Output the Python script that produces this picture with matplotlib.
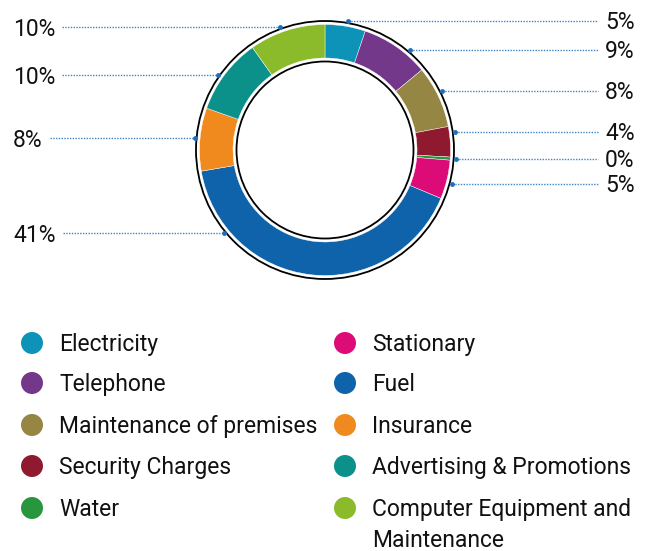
import numpy as np
import matplotlib
matplotlib.use("Agg")
import matplotlib.pyplot as plt
from matplotlib.patches import Circle

# ---------------- data ----------------
categories = [
    "Electricity", "Telephone", "Maintenance of premises", "Security Charges",
    "Water", "Stationary", "Fuel", "Insurance", "Advertising & Promotions",
    "Computer Equipment and\nMaintenance",
]
values = [5.2, 8.8, 8.0, 3.9, 0.4, 5.0, 41.0, 8.1, 9.8, 9.8]
colors = [
    "#0e93b8", "#74388a", "#968644", "#8f1a30", "#27963c",
    "#dd0b78", "#0e63ab", "#f0891e", "#0b918a", "#8bbb2a",
]

# ---------------- layout ----------------
W, H = 650, 551
plt.rcParams["font.family"] = ["Roboto", "DejaVu Sans"]
TXT = "#111111"
LINE = "#3d85c6"
FS = 16.5
FW = "normal"

fig = plt.figure(figsize=(W / 100, H / 100), dpi=100)
ax = fig.add_axes([0, 0, 1, 1])

cx, cy_px = 325, 150
cy = H - cy_px
R_out, R_in = 125.5, 92
R_black_out, R_black_in = 129, 88.5
R_lead = 131

ax.pie(values, colors=colors, startangle=90, counterclock=False,
       radius=R_out, center=(cx, cy),
       wedgeprops=dict(width=R_out - R_in, linewidth=0.3, edgecolor="white"))
ax.add_patch(Circle((cx, cy), R_black_out, fill=False, ec="black", lw=1.3))
ax.add_patch(Circle((cx, cy), R_black_in, fill=False, ec="black", lw=1.3))

ax.set_xlim(0, W)
ax.set_ylim(0, H)
ax.set_aspect("equal")
ax.axis("off")

# label rows (pixel y of leader lines) for each wedge, and side
label_y = [21, 50, 91, 132, 159, 184, 233, 138, 75, 27]
label_side = ["R"] * 6 + ["L"] * 4

texts = []
for v, ly, side in zip(values, label_y, label_side):
    s = f"{v:.0f}%"
    dy = ly - cy_px
    dx = np.sqrt(R_lead ** 2 - dy ** 2)
    if side == "R":
        xe = cx + dx
        ax.text(605, H - ly - 1.5, s, ha="left", va="center", fontsize=FS,
                fontweight=FW, color=TXT)
        ax.plot([xe, 598], [H - ly, H - ly], ls=(0, (1, 1)), lw=1, color=LINE)
        ax.plot([xe], [H - ly], "o", ms=2.5, color="#1f6fb8")
    else:
        xe = cx - dx
        t = ax.text(13, H - ly - 2.5, s, ha="left", va="center", fontsize=FS,
                    fontweight=FW, color=TXT)
        texts.append((t, xe, ly))

fig.canvas.draw()
r = fig.canvas.get_renderer()
for t, xe, ly in texts:
    bb = t.get_window_extent(r)
    x0 = bb.x1 + 7
    ax.plot([x0, xe], [H - ly, H - ly], ls=(0, (1, 1)), lw=1, color=LINE)
    ax.plot([xe], [H - ly], "o", ms=2.5, color="#1f6fb8")

# legend
col_x = [32, 345]
row_y = [343, 383, 425, 466, 508]
for i, (name, c) in enumerate(zip(categories, colors)):
    col, row = divmod(i, 5)
    mx, my = col_x[col], H - row_y[row]
    ax.add_patch(Circle((mx, my), 11, color=c, lw=0))
    ax.text(mx + 27, my + 10, name, ha="left", va="top", fontsize=FS,
            fontweight=FW, color=TXT, linespacing=1.42)

fig.savefig("out.png", dpi=100)
